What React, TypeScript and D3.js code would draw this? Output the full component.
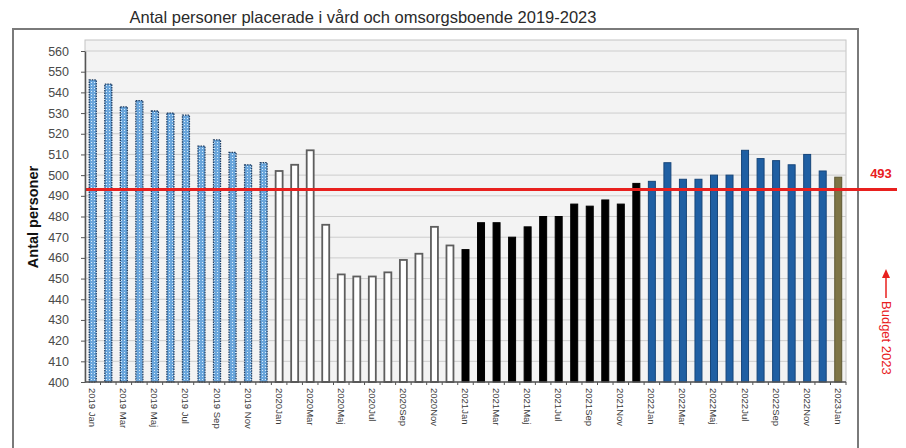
import { useRef, useEffect } from "react";
import * as d3 from "d3";

const MONTHS = ["Jan", "Feb", "Mar", "Apr", "Maj", "Jun", "Jul", "Aug", "Sep", "Okt", "Nov", "Dec"];
const YEARS = [2019, 2020, 2021, 2022, 2023];

const values2019 = [546, 544, 533, 536, 531, 530, 529, 514, 517, 511, 505, 506];
const values2020 = [502, 505, 512, 476, 452, 451, 451, 453, 459, 462, 475, 466];
const values2021 = [464, 477, 477, 470, 475, 480, 480, 486, 485, 488, 486, 496];
const values2022 = [497, 506, 498, 498, 500, 500, 512, 508, 507, 505, 510, 502];
const values2023 = [499];

const budget = 493;
const yTicks = [400, 410, 420, 430, 440, 450, 460, 470, 480, 490, 500, 510, 520, 530, 540, 550, 560];

const TITLE = "Antal personer placerade i vård och omsorgsboende 2019-2023";

interface Bar {
  key: string;
  label: string;
  year: number;
  month: number;
  value: number;
}

export default function App() {
  const svgRef = useRef<SVGSVGElement>(null);

  useEffect(() => {
    if (!svgRef.current) return;
    const svg = d3.select(svgRef.current);
    svg.selectAll("*").remove();

    const width = 906;
    const height = 448;
    const font = "Liberation Sans, Arial, sans-serif";

    const series = [values2019, values2020, values2021, values2022, values2023];
    const bars: Bar[] = [];
    series.forEach((vals, yi) => {
      vals.forEach((v, mi) => {
        const year = YEARS[yi];
        const label = year === 2019 ? `${year} ${MONTHS[mi]}` : `${year}${MONTHS[mi]}`;
        bars.push({ key: `${year}-${mi}`, label, year, month: mi, value: v });
      });
    });

    const plot = { left: 85, right: 846, top: 40, bottom: 382 };

    const x = d3
      .scaleBand<string>()
      .domain(bars.map((d) => d.key))
      .range([plot.left, plot.right])
      .paddingInner(0.55)
      .paddingOuter(0.275);
    const y = d3.scaleLinear().domain([400, 560]).range([plot.bottom, 51]);

    svg.attr("viewBox", `0 0 ${width} ${height}`);

    // pattern for 2019 bars (dotted light blue)
    const defs = svg.append("defs");
    const pat = defs
      .append("pattern")
      .attr("id", "dots2019")
      .attr("width", 3)
      .attr("height", 3)
      .attr("patternUnits", "userSpaceOnUse");
    pat.append("rect").attr("width", 3).attr("height", 3).attr("fill", "#6aa6dc");
    pat.append("rect").attr("x", 1).attr("y", 1).attr("width", 1).attr("height", 1).attr("fill", "#d8ecfa");

    svg.append("rect").attr("width", width).attr("height", height).attr("fill", "#fff");

    // Title
    svg
      .append("text")
      .attr("x", 363)
      .attr("y", 23)
      .attr("text-anchor", "middle")
      .style("font-family", font)
      .style("font-size", "16.5px")
      .style("fill", "#2a2a2a")
      .text(TITLE);

    // Outer frame
    svg
      .append("rect")
      .attr("x", 13)
      .attr("y", 29)
      .attr("width", 845)
      .attr("height", 430)
      .attr("fill", "none")
      .attr("stroke", "#7a7a7a")
      .attr("stroke-width", 2);

    // Plot background
    svg
      .append("rect")
      .attr("x", plot.left)
      .attr("y", plot.top)
      .attr("width", plot.right - plot.left)
      .attr("height", plot.bottom - plot.top)
      .attr("fill", "#f3f3f3")
      .attr("stroke", "#c4c4c4")
      .attr("stroke-width", 1);

    // Grid lines
    svg
      .append("g")
      .selectAll("line")
      .data(yTicks.slice(1))
      .join("line")
      .attr("x1", plot.left)
      .attr("x2", plot.right)
      .attr("y1", (d) => y(d))
      .attr("y2", (d) => y(d))
      .attr("stroke", "#cdcdcd")
      .attr("stroke-width", 1);

    // Bars
    const fillFor = (d: Bar) => {
      if (d.year === 2019) return "url(#dots2019)";
      if (d.year === 2020) return "#ffffff";
      if (d.year === 2021) return "#000000";
      if (d.year === 2022) return "#1f5fa3";
      return "#7d7445";
    };
    const strokeFor = (d: Bar) => {
      if (d.year === 2019) return "#1f3d62";
      if (d.year === 2020) return "#5e5e5e";
      if (d.year === 2021) return "#000000";
      if (d.year === 2022) return "#17467a";
      return "#5e5733";
    };

    svg
      .append("g")
      .selectAll("rect")
      .data(bars)
      .join("rect")
      .attr("x", (d) => x(d.key)!)
      .attr("y", (d) => y(d.value))
      .attr("width", x.bandwidth())
      .attr("height", (d) => y(400) - y(d.value))
      .attr("fill", fillFor)
      .attr("stroke", strokeFor)
      .attr("stroke-width", (d) => (d.year === 2020 ? 1.8 : d.year === 2019 ? 1.3 : 1))
      .attr("stroke-dasharray", (d) => (d.year === 2019 ? "1.5,1" : null));

    // Budget line
    svg
      .append("line")
      .attr("x1", plot.left)
      .attr("x2", 897)
      .attr("y1", y(budget))
      .attr("y2", y(budget))
      .attr("stroke", "#e8201e")
      .attr("stroke-width", 3);

    svg
      .append("text")
      .attr("x", 881)
      .attr("y", y(budget) - 12)
      .attr("text-anchor", "middle")
      .style("font-family", font)
      .style("font-size", "13px")
      .style("font-weight", "bold")
      .style("fill", "#e8201e")
      .text(String(budget));

    // Budget arrow + label
    const arrow = svg.append("g");
    arrow
      .append("line")
      .attr("x1", 886)
      .attr("x2", 886)
      .attr("y1", 298)
      .attr("y2", 276)
      .attr("stroke", "#e8201e")
      .attr("stroke-width", 1.5);
    arrow
      .append("path")
      .attr("d", "M882,278 L886,269 L890,278 Z")
      .attr("fill", "#e8201e");
    arrow
      .append("text")
      .attr("transform", "translate(881.5,301) rotate(90)")
      .style("font-family", font)
      .style("font-size", "13px")
      .style("fill", "#e8201e")
      .text("Budget 2023");

    // Y axis
    const yAxis = svg
      .append("g")
      .attr("transform", `translate(${plot.left},0)`)
      .call(d3.axisLeft(y).tickValues(yTicks).tickSize(4).tickSizeOuter(0).tickPadding(12));
    yAxis.select(".domain").attr("stroke", "#555").attr("stroke-width", 1.5);
    yAxis.selectAll(".tick line").attr("stroke", "#555");
    yAxis
      .selectAll("text")
      .style("font-family", font)
      .style("font-size", "12.5px")
      .style("fill", "#4a4a4a");

    svg
      .append("text")
      .attr("transform", `translate(38,${(plot.top + plot.bottom) / 2 + 6}) rotate(-90)`)
      .attr("text-anchor", "middle")
      .style("font-family", font)
      .style("font-size", "14.5px")
      .style("font-weight", "bold")
      .style("fill", "#111")
      .text("Antal personer");

    // X axis
    svg
      .append("line")
      .attr("x1", plot.left)
      .attr("x2", plot.right)
      .attr("y1", plot.bottom)
      .attr("y2", plot.bottom)
      .attr("stroke", "#555")
      .attr("stroke-width", 1.5);

    const step = x.step();
    svg
      .append("g")
      .selectAll("line")
      .data(bars)
      .join("line")
      .attr("x1", (d) => x(d.key)! + x.bandwidth() / 2 + step / 2)
      .attr("x2", (d) => x(d.key)! + x.bandwidth() / 2 + step / 2)
      .attr("y1", plot.bottom)
      .attr("y2", plot.bottom + 3)
      .attr("stroke", "#555");

    svg
      .append("g")
      .selectAll("text")
      .data(bars.filter((d) => d.month % 2 === 0))
      .join("text")
      .attr("transform", (d) => `translate(${x(d.key)! + x.bandwidth() / 2 - 3.5},${plot.bottom + 6}) rotate(90)`)
      .style("font-family", font)
      .style("font-size", "9.5px")
      .style("fill", "#3a3a3a")
      .text((d) => d.label);

    return () => {
      svg.selectAll("*").remove();
    };
  }, []);

  return (
    <svg
      ref={svgRef}
      width={906}
      height={448}
      style={{ position: "absolute", left: 0, top: 0 }}
    />
  );
}
